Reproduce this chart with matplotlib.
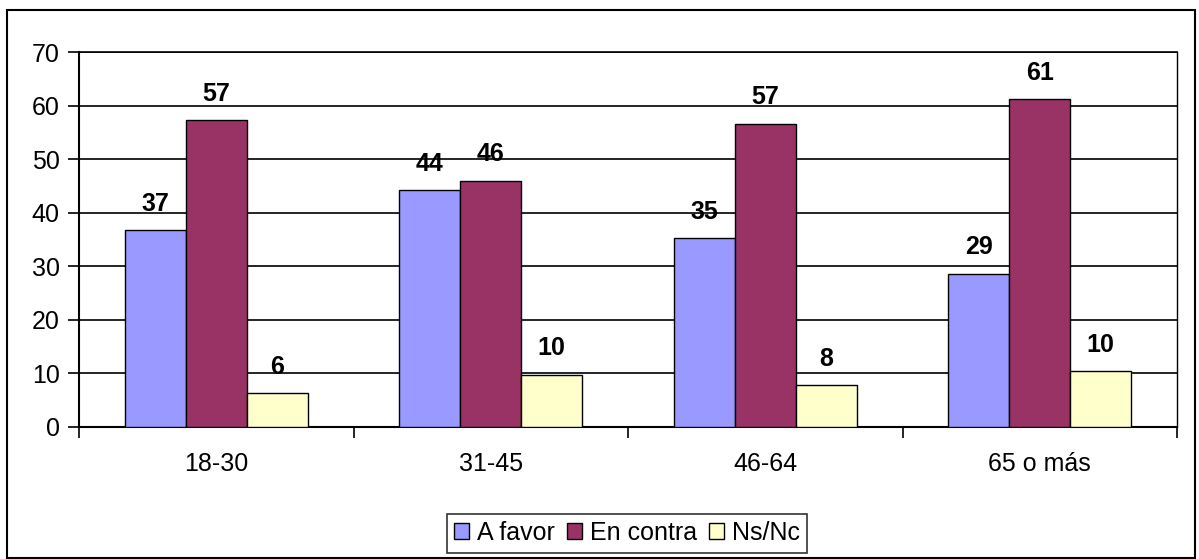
import numpy as np
import matplotlib.pyplot as plt
from matplotlib.patches import Rectangle

plt.rcParams['font.family'] = ['Liberation Sans', 'DejaVu Sans']

# datos
categorias = ["18-30", "31-45", "46-64", "65 o más"]
a_favor = [36.7, 44.2, 35.2, 28.6]
en_contra = [57.3, 46.0, 56.6, 61.2]
ns_nc = [6.3, 9.8, 7.8, 10.4]
series = ["A favor", "En contra", "Ns/Nc"]
colores = ["#9999FF", "#993366", "#FFFFCC"]

fig = plt.figure(figsize=(11.99, 5.59), dpi=100)
ax = fig.add_axes([79 / 1199, 1 - 427 / 559, 1098 / 1199, 375 / 559])

x = np.arange(len(categorias))
w = 1 / 4.5
for k, (vals, nombre, col) in enumerate(zip([a_favor, en_contra, ns_nc], series, colores)):
    ax.bar(x + (k - 1) * w, vals, w, color=col, edgecolor='black', linewidth=1.0,
           label=nombre, zorder=3)
    for xi, v in zip(x + (k - 1) * w, vals):
        ax.annotate("%.0f" % v, (xi, v), xytext=(0, 14), textcoords='offset points',
                    ha='center', va='baseline', fontsize=18, fontweight='bold')

ax.set_xlim(-0.5, len(categorias) - 0.5)
ax.set_ylim(0, 70)
ax.set_yticks(range(0, 71, 10))
ax.yaxis.grid(True, color='black', linewidth=1.2, zorder=0)
ax.set_axisbelow(True)

# marcas en los límites de categoría
ax.set_xticks(np.arange(-0.5, len(categorias), 1))
ax.set_xticklabels([])
ax.set_xticks(x, minor=True)
ax.set_xticklabels(categorias, minor=True)
ax.tick_params(axis='x', which='major', length=8, width=1.2, direction='out')
ax.tick_params(axis='x', which='minor', length=0, pad=18, labelsize=18)
ax.tick_params(axis='y', length=8, width=1.2, direction='out', labelsize=18, pad=6)

for s in ['left', 'bottom']:
    ax.spines[s].set_linewidth(1.5)
ax.spines['right'].set_linewidth(1.0)
ax.spines['top'].set_linewidth(1.2)

leg = fig.legend(loc='center', bbox_to_anchor=(627 / 1199, 1 - 533 / 559), ncol=3,
                 fontsize=18, frameon=True, fancybox=False, edgecolor='black',
                 handlelength=0.6, handleheight=0.6, handletextpad=0.3,
                 columnspacing=0.5, borderpad=0.3)
leg.get_frame().set_linewidth(1.2)

# marco exterior
fig.patches.append(Rectangle((7 / 1199, 1 / 559), 1188 / 1199, 548 / 559,
                             transform=fig.transFigure, fill=False,
                             edgecolor='black', linewidth=1.5))

fig.savefig("out.png", dpi=100)
